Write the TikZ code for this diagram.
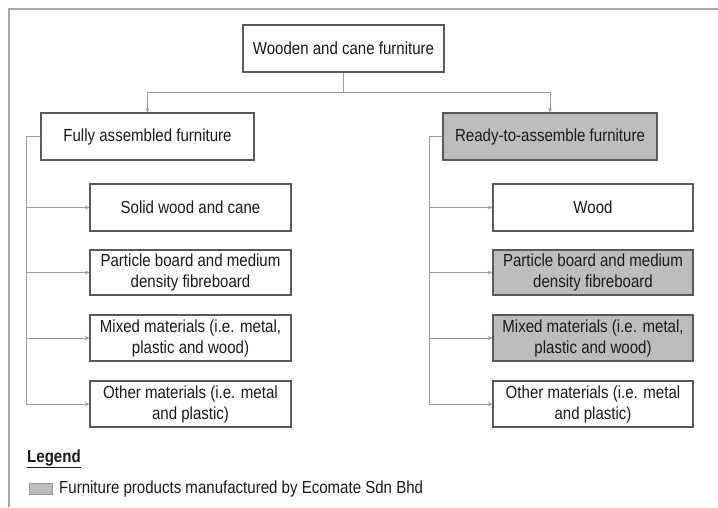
\documentclass[tikz,border=0pt]{standalone}
\usepackage{fontspec}
\setmainfont{Liberation Sans}[FakeStretch=0.86]
\usepackage{xcolor}
\usepackage{tikz}
\usetikzlibrary{arrows.meta, calc}

\definecolor{boxline}{HTML}{5A5A5A}
\definecolor{linkgray}{HTML}{9A9A9A}
\definecolor{framegray}{HTML}{A8A8A8}
\definecolor{ecofill}{HTML}{BDBDBD}
\definecolor{txtdark}{HTML}{1A1A1A}

\tikzset{
  catbox/.style={draw=boxline, line width=1.2pt, fill=white, inner sep=0pt,
    minimum height=47pt, align=center, text=txtdark,
    font=\fontsize{17.5}{21}\selectfont},
  ecobox/.style={catbox, fill=ecofill},
  link/.style={draw=linkgray, line width=0.9pt},
  linkarrow/.style={link, -{Stealth[length=4.5pt,width=4pt]}}
}

\begin{document}
\begin{tikzpicture}[x=1pt, y=-1pt]
  \useasboundingbox (0,0) rectangle (718,507);
  % outer frame
  \draw[framegray, line width=1.2pt] (9,507) -- (9,9) -- (718,9);

  % top level
  \node[catbox, minimum width=201pt] (top) at (343.5,48.5) {Wooden and cane furniture};
  \node[catbox, minimum width=213pt] (fully) at (147.5,136.5) {Fully assembled furniture};
  \node[ecobox, minimum width=214pt] (ready) at (550,136.5) {Ready-to-assemble furniture};

  \coordinate (bus) at (343.5,92);
  \draw[link] (top.south) -- (bus);
  \draw[linkarrow] (bus) -| (fully.north);
  \draw[linkarrow] (bus) -| (ready.north);

  % fully assembled branch
  \node[catbox, minimum width=201pt] (fa1) at (190.5,207.5) {Solid wood and cane};
  \node[catbox, minimum width=201pt, minimum height=45pt] (fa2) at (190.5,272.5)
    {Particle board and medium\\density fibreboard};
  \node[catbox, minimum width=201pt, minimum height=46pt] (fa3) at (190.5,338)
    {Mixed materials (i.e. metal,\\plastic and wood)};
  \node[catbox, minimum width=201pt, minimum height=46pt] (fa4) at (190.5,404)
    {Other materials (i.e. metal\\and plastic)};

  % ready-to-assemble branch
  \node[catbox, minimum width=200pt] (ra1) at (593,207.5) {Wood};
  \node[ecobox, minimum width=200pt, minimum height=45pt] (ra2) at (593,272.5)
    {Particle board and medium\\density fibreboard};
  \node[ecobox, minimum width=200pt, minimum height=46pt] (ra3) at (593,338)
    {Mixed materials (i.e. metal,\\plastic and wood)};
  \node[catbox, minimum width=200pt, minimum height=46pt] (ra4) at (593,404)
    {Other materials (i.e. metal\\and plastic)};

  \coordinate (ltrunk) at (26,136.5);
  \coordinate (rtrunk) at (429,136.5);
  \draw[link] (fully.west) -- (ltrunk) -- (ltrunk |- fa4.west);
  \draw[link] (ready.west) -- (rtrunk) -- (rtrunk |- ra4.west);
  \foreach \n in {1,2,3,4} {
    \draw[linkarrow] (ltrunk |- fa\n.west) -- (fa\n.west);
    \draw[linkarrow] (rtrunk |- ra\n.west) -- (ra\n.west);
  }

  % legend
  \node[anchor=west, inner sep=0pt, text=txtdark, font=\fontsize{17.5}{21}\selectfont\bfseries]
    (legend) at (27,459) {\underline{Legend}};
  \node[draw=ecofill!80!black, line width=0.5pt, fill=ecofill, inner sep=0pt,
    minimum width=23pt, minimum height=11pt] (swatch) at (40.5,488.5) {};
  \node[anchor=west, inner sep=0pt, text=txtdark, font=\fontsize{17.5}{21}\selectfont]
    (legtext) at (59,489) {Furniture products manufactured by Ecomate Sdn Bhd};
\end{tikzpicture}
\end{document}
